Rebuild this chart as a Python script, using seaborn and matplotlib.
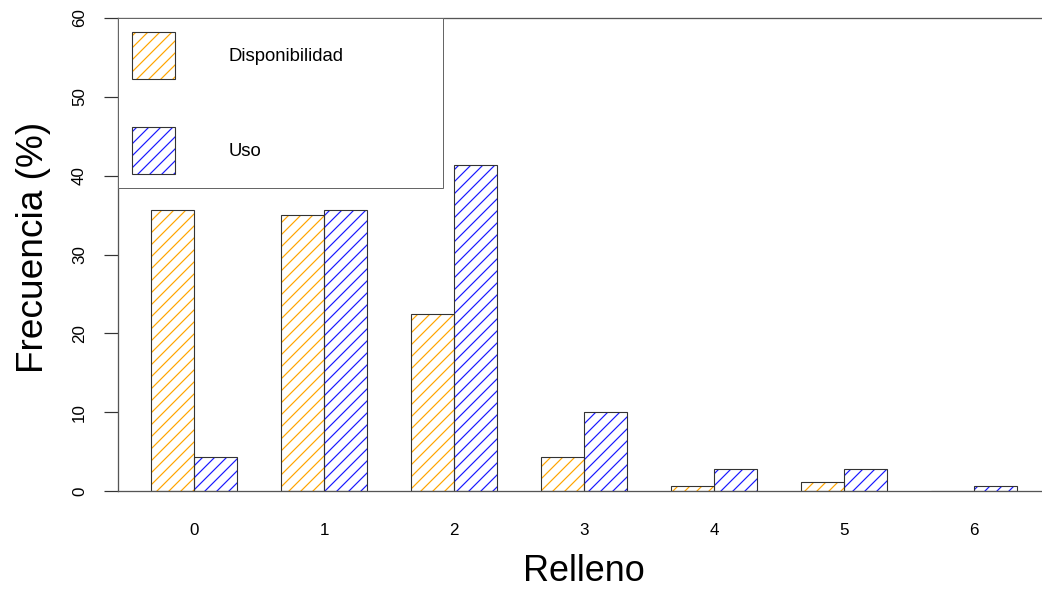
import matplotlib
matplotlib.use("Agg")
import matplotlib.pyplot as plt
from matplotlib.patches import Patch
import seaborn as sns
import pandas as pd

categories = ["0", "1", "2", "3", "4", "5", "6"]
disponibilidad = [35.6, 35.0, 22.4, 4.3, 0.65, 1.1, 0.0]
uso = [4.3, 35.6, 41.4, 10.0, 2.85, 2.85, 0.65]
series_names = ["Disponibilidad", "Uso"]
y_ticks = [0, 10, 20, 30, 40, 50, 60]

hatch_colors = ["#FFA500", "#1A1AFF"]
edge_dark = "#333333"

sns.set_theme(style="white")
plt.rcParams["font.family"] = ["Liberation Sans", "DejaVu Sans"]
plt.rcParams["hatch.linewidth"] = 1.2
plt.rcParams["text.color"] = "black"
plt.rcParams["xtick.color"] = "black"
plt.rcParams["ytick.color"] = "black"
plt.rcParams["axes.labelcolor"] = "black"

df = pd.DataFrame({
    "Relleno": categories * 2,
    "Frecuencia": disponibilidad + uso,
    "Serie": [series_names[0]] * len(categories) + [series_names[1]] * len(categories),
})

DPI = 72
fig = plt.figure(figsize=(1042 / DPI, 590 / DPI), dpi=DPI)
ax = fig.add_axes([118 / 1042, 99 / 590, 924 / 1042, 473 / 590])

# hatched fill layer
sns.barplot(data=df, x="Relleno", y="Frecuencia", hue="Serie", order=categories,
            hue_order=series_names, palette=hatch_colors, width=2 / 3,
            saturation=1, linewidth=0, legend=False, errorbar=None, ax=ax)
for p in list(ax.patches):
    c = p.get_facecolor()
    p.set_facecolor("white")
    p.set_edgecolor(c)
    p.set_hatch("//")
    p.set_linewidth(0)

# outline layer
sns.barplot(data=df, x="Relleno", y="Frecuencia", hue="Serie", order=categories,
            hue_order=series_names, palette=[edge_dark, edge_dark], width=2 / 3,
            fill=False, linewidth=1.1, legend=False, errorbar=None, ax=ax)

ax.set_xlim(-0.585, 6.523)
ax.set_ylim(0, 60)
ax.set_yticks(y_ticks)
ax.set_yticklabels([str(v) for v in y_ticks], rotation=90, va="center")
ax.tick_params(axis="y", length=14, width=1.2, color=edge_dark, pad=17,
               labelsize=17, left=True, labelcolor="black")
ax.tick_params(axis="x", length=0, pad=32, labelsize=17, labelcolor="black")

for side in ["left", "top", "bottom"]:
    ax.spines[side].set_visible(True)
    ax.spines[side].set_color("#555555")
    ax.spines[side].set_linewidth(1.3)
ax.spines["right"].set_visible(False)

ax.set_xlabel("Relleno", fontsize=36)
ax.set_ylabel("Frecuencia (%)", fontsize=37)
ax.xaxis.set_label_coords(0.504, -0.133)
ax.yaxis.set_label_coords(-0.073, 0.515)

handles = []
for col in hatch_colors:
    h1 = Patch(facecolor="white", edgecolor=col, hatch="//", linewidth=0)
    h2 = Patch(facecolor="none", edgecolor=edge_dark, linewidth=1.1)
    handles.append((h1, h2))
fs = 18.5
leg = ax.legend(handles, series_names, loc="upper left",
                bbox_to_anchor=(0, 0, 0.3517, 1), mode="expand",
                borderaxespad=0, fontsize=fs, handlelength=43 / fs,
                handleheight=3.532, labelspacing=48 / fs,
                handletextpad=54 / fs, borderpad=14 / fs,
                fancybox=False, framealpha=1, edgecolor="#666666")
leg.get_frame().set_linewidth(1.0)

fig.savefig("out.png", dpi=DPI)
